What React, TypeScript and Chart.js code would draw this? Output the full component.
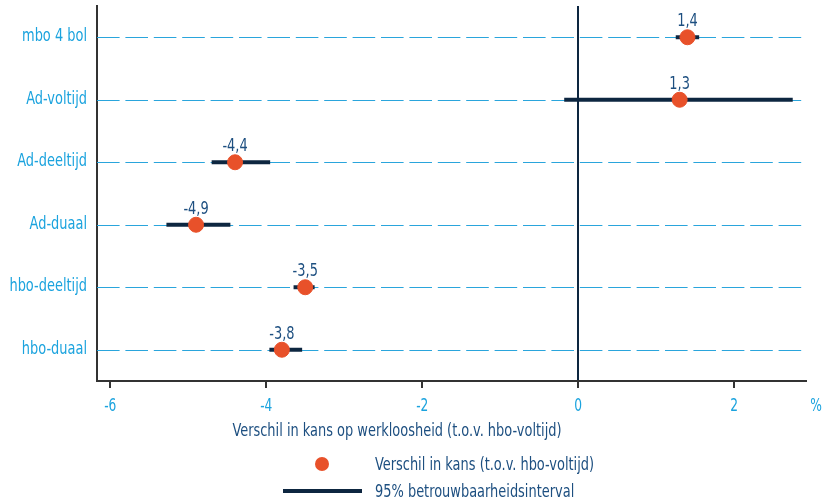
import React, { useEffect, useRef } from 'react';
import { Chart, registerables } from 'chart.js';

Chart.register(...registerables);

const categories = ['mbo 4 bol', 'Ad-voltijd', 'Ad-deeltijd', 'Ad-duaal', 'hbo-deeltijd', 'hbo-duaal'];
const estimates = [1.4, 1.3, -4.4, -4.9, -3.5, -3.8];
const ciLower = [1.25, -0.18, -4.7, -5.28, -3.65, -3.96];
const ciUpper = [1.55, 2.75, -3.95, -4.46, -3.38, -3.54];
const valueLabels = ['1,4', '1,3', '-4,4', '-4,9', '-3,5', '-3,8'];
const xTicks = [-6, -4, -2, 0, 2];
const xTickLabels = ['-6', '-4', '-2', '0', '2'];
const xMin = -6.17;
const xMax = 2.92;
const xTitle = 'Verschil in kans op werkloosheid (t.o.v. hbo-voltijd)';
const legendPoint = 'Verschil in kans (t.o.v. hbo-voltijd)';
const legendLine = '95% betrouwbaarheidsinterval';

const FONT = "'Liberation Sans Narrow', 'DejaVu Sans Condensed', sans-serif";
const LIGHT_BLUE = '#1ba3de';
const GRID_BLUE = '#2aa5dc';
const DARK_BLUE = '#1d4f80';
const NAVY = '#0d2640';
const ORANGE = '#e8512a';
const AXIS = '#333333';

function drawText(
  ctx: CanvasRenderingContext2D,
  text: string,
  x: number,
  y: number,
  size: number,
  color: string,
  align: 'left' | 'center' | 'right',
  sx: number
) {
  ctx.save();
  ctx.font = `${size}px ${FONT}`;
  ctx.fillStyle = color;
  ctx.textBaseline = 'alphabetic';
  ctx.textAlign = align;
  ctx.translate(x, y);
  ctx.scale(sx, 1);
  ctx.fillText(text, 0, 0);
  ctx.restore();
}

const gridPlugin = {
  id: 'dashedGrid',
  beforeDatasetsDraw(chart: any) {
    const ctx = chart.ctx as CanvasRenderingContext2D;
    const xs = chart.scales.x;
    const ys = chart.scales.y;
    ctx.save();
    ctx.strokeStyle = GRID_BLUE;
    ctx.lineWidth = 1;
    ctx.setLineDash([22.6, 5.8]);
    categories.forEach((_, i) => {
      const y = Math.round(ys.getPixelForValue(i)) + 0.5;
      ctx.beginPath();
      ctx.moveTo(xs.left, y);
      ctx.lineTo(xs.right, y);
      ctx.stroke();
    });
    ctx.restore();
  },
};

const annotPlugin = {
  id: 'annot',
  afterDraw(chart: any) {
    const ctx = chart.ctx as CanvasRenderingContext2D;
    const xs = chart.scales.x;
    const ys = chart.scales.y;
    const SX = 0.8;
    categories.forEach((c, i) => {
      drawText(ctx, c, xs.left - 10, ys.getPixelForValue(i) + 4, 18, LIGHT_BLUE, 'right', SX);
    });
    xTicks.forEach((v, i) => {
      drawText(ctx, xTickLabels[i], xs.getPixelForValue(v), xs.top + 30, 17, LIGHT_BLUE, 'center', SX);
    });
    drawText(ctx, '%', xs.right + 10, xs.top + 30, 17, LIGHT_BLUE, 'center', SX);
    drawText(ctx, xTitle, 397, 436, 18, DARK_BLUE, 'center', SX);
    estimates.forEach((v, i) => {
      drawText(ctx, valueLabels[i], xs.getPixelForValue(v), ys.getPixelForValue(i) - 11, 18, DARK_BLUE, 'center', SX);
    });
    ctx.save();
    ctx.fillStyle = ORANGE;
    ctx.beginPath();
    ctx.arc(322, 464, 7, 0, Math.PI * 2);
    ctx.fill();
    ctx.strokeStyle = NAVY;
    ctx.lineWidth = 4;
    ctx.beginPath();
    ctx.moveTo(283, 491);
    ctx.lineTo(362, 491);
    ctx.stroke();
    ctx.restore();
    drawText(ctx, legendPoint, 375, 470, 18, DARK_BLUE, 'left', SX);
    drawText(ctx, legendLine, 375, 497, 18, DARK_BLUE, 'left', SX);
  },
};

export default function App() {
  const ref = useRef<HTMLCanvasElement | null>(null);
  useEffect(() => {
    if (!ref.current) return;
    const ciDatasets = categories.map((c, i) => ({
      type: 'line' as const,
      data: [
        { x: ciLower[i], y: c },
        { x: ciUpper[i], y: c },
      ],
      borderColor: NAVY,
      borderWidth: 4,
      pointRadius: 0,
      showLine: true,
      order: 2,
    }));
    const pointDataset = {
      type: 'scatter' as const,
      data: categories.map((c, i) => ({ x: estimates[i], y: c })),
      backgroundColor: ORANGE,
      borderColor: ORANGE,
      pointRadius: 7.5,
      order: 1,
    };
    const chart = new Chart(ref.current, {
      type: 'scatter',
      data: { labels: categories, datasets: [...ciDatasets, pointDataset] as any },
      options: {
        animation: false,
        responsive: false,
        maintainAspectRatio: false,
        layout: { autoPadding: false, padding: { top: 6, right: 20, bottom: 56, left: 0 } },
        plugins: { legend: { display: false }, tooltip: { enabled: false } },
        scales: {
          x: {
            type: 'linear',
            min: xMin,
            max: xMax,
            afterBuildTicks: (s: any) => {
              s.ticks = xTicks.map((v) => ({ value: v }));
            },
            afterFit: (s: any) => {
              s.height = 62;
              s.paddingLeft = 0;
              s.paddingRight = 0;
            },
            ticks: { display: false },
            grid: {
              drawOnChartArea: true,
              drawTicks: true,
              tickLength: 7,
              tickColor: AXIS,
              tickWidth: 2,
              color: (c: any) => (c.tick && c.tick.value === 0 ? NAVY : 'rgba(0,0,0,0)'),
              lineWidth: 2,
            },
            border: { display: true, color: AXIS, width: 2 },
          },
          y: {
            type: 'category',
            labels: categories,
            offset: true,
            afterFit: (s: any) => {
              s.width = 97;
              s.paddingTop = 0;
              s.paddingBottom = 0;
            },
            ticks: { display: false },
            grid: { display: false, drawTicks: false },
            border: { display: true, color: AXIS, width: 2 },
          },
        },
      } as any,
      plugins: [gridPlugin, annotPlugin],
    });
    return () => chart.destroy();
  }, []);
  return (
    <div style={{ position: 'fixed', left: 0, top: 0, width: 826, height: 499, background: '#fff' }}>
      <canvas ref={ref} width={826} height={499} style={{ width: 826, height: 499, display: 'block' }} />
    </div>
  );
}
